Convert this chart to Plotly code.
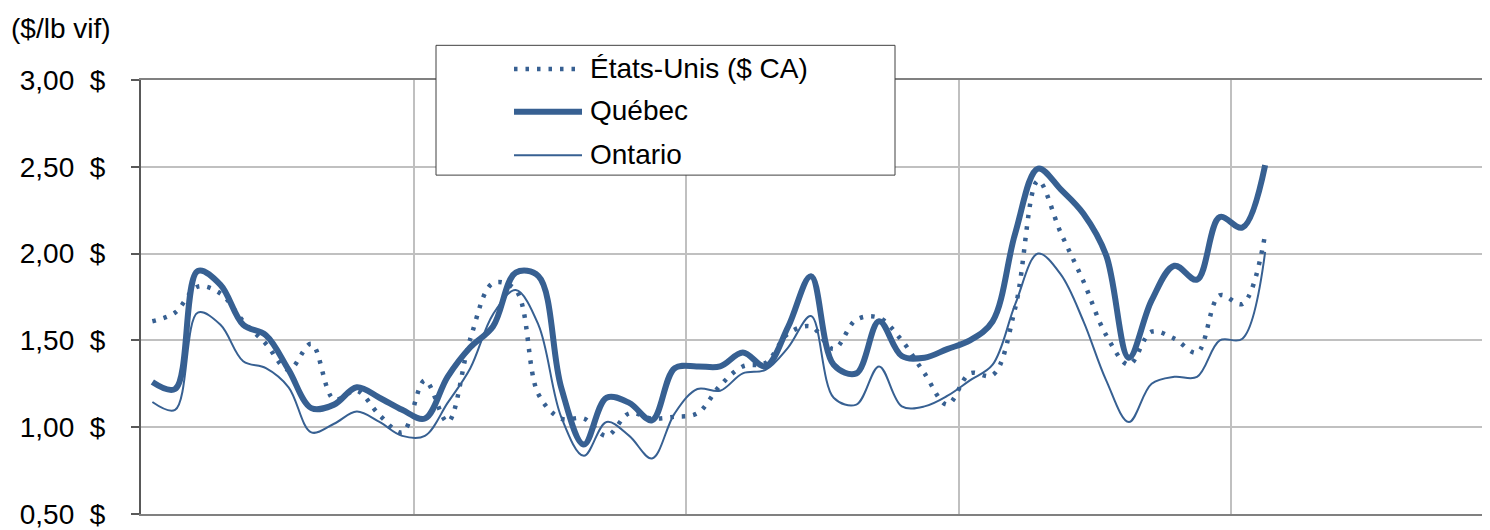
import plotly.graph_objects as go

# ---- data (monthly points) ----
months = list(range(50))
etats_unis = [1.61, 1.66, 1.81, 1.77, 1.61, 1.48, 1.33, 1.48, 1.16, 1.21, 1.07, 0.97,
              1.27, 1.03, 1.51, 1.83, 1.79, 1.19, 1.05, 1.05, 0.95, 1.08, 1.05, 1.06,
              1.08, 1.24, 1.35, 1.37, 1.54, 1.58, 1.45, 1.62, 1.63, 1.50, 1.31, 1.13,
              1.31, 1.30, 1.69, 2.42, 2.12, 1.84, 1.53, 1.36, 1.55, 1.51, 1.43, 1.76,
              1.71, 2.11]
quebec = [1.26, 1.22, 1.90, 1.82, 1.59, 1.53, 1.33, 1.11, 1.13, 1.23, 1.17, 1.10,
          1.05, 1.29, 1.46, 1.58, 1.89, 1.87, 1.23, 0.90, 1.17, 1.14, 1.04, 1.34,
          1.35, 1.35, 1.43, 1.35, 1.58, 1.87, 1.36, 1.31, 1.61, 1.41, 1.40, 1.45,
          1.50, 1.61, 2.12, 2.49, 2.37, 2.23, 1.99, 1.40, 1.73, 1.93, 1.85, 2.21,
          2.15, 2.51]
ontario = [1.145, 1.10, 1.66, 1.59, 1.38, 1.34, 1.23, 0.97, 1.02, 1.09, 1.03, 0.95,
           0.95, 1.14, 1.34, 1.65, 1.79, 1.59, 1.06, 0.835, 1.03, 0.95, 0.82, 1.08,
           1.22, 1.21, 1.31, 1.33, 1.46, 1.64, 1.17, 1.13, 1.35, 1.12, 1.12, 1.18,
           1.27, 1.36, 1.71, 2.00, 1.88, 1.61, 1.27, 1.03, 1.25, 1.29, 1.29, 1.50,
           1.51, 2.01]
series_names = ["États-Unis ($ CA)", "Québec", "Ontario"]
y_tickvals = [0.5, 1.0, 1.5, 2.0, 2.5, 3.0]
y_ticktext = ["0,50\u00a0\u00a0$", "1,00\u00a0\u00a0$", "1,50\u00a0\u00a0$",
              "2,00\u00a0\u00a0$", "2,50\u00a0\u00a0$", "3,00\u00a0\u00a0$"]
y_title = "($/lb vif)"
year_bounds = [11.5, 23.5, 35.5, 47.5]

# ---- layout geometry (page pixels; the page body adds an 8px offset) ----
OFF = 8
PAGE_W, PAGE_H = 1490, 530
W, H = PAGE_W - OFF, PAGE_H - OFF
ML, MR, MT, MB = 141 - OFF, 0, 80 - OFF, PAGE_H - 518
PW, PH = W - ML - MR, H - MT - MB
px_per_month = 22.71
x_range = [-0.5, -0.5 + PW / px_per_month]

def px(xp):
    return (xp - OFF - ML) / PW

def py(yp):
    return (H - MB - (yp - OFF)) / PH

COLOR = "#376092"
FONT = "Liberation Sans, Arial, sans-serif"
FS = 28

fig = go.Figure()
styles = [dict(width=4.5, dash="3.5px,8px"), dict(width=6), dict(width=2)]
for name, vals, st in zip(series_names, [etats_unis, quebec, ontario], styles):
    fig.add_trace(go.Scatter(
        x=months, y=vals, mode="lines", name=name, showlegend=False,
        line=dict(color=COLOR, shape="spline", smoothing=1, **st),
    ))

# manual legend (box, samples, labels)
shapes = [dict(type="rect", xref="paper", yref="paper",
               x0=px(436), x1=px(895), y0=py(176), y1=py(45),
               line=dict(color="#404040", width=1), fillcolor="white", layer="above")]
annotations = []
rows = [68, 111, 155]
for name, st, yr in zip(series_names, styles, rows):
    shapes.append(dict(type="line", xref="paper", yref="paper",
                       x0=px(514), x1=px(582), y0=py(yr + 1), y1=py(yr + 1),
                       line=dict(color=COLOR, width=st["width"], dash=st.get("dash", "solid")),
                       layer="above"))
    annotations.append(dict(xref="paper", yref="paper", x=px(588), y=py(yr),
                            xanchor="left", yanchor="middle", showarrow=False,
                            text=name, font=dict(size=FS, color="black", family=FONT)))

annotations.append(dict(xref="paper", yref="paper", x=px(9), y=py(28),
                        xanchor="left", yanchor="middle", showarrow=False,
                        text=y_title, font=dict(size=FS, color="black", family=FONT)))

fig.update_layout(
    width=W, height=H,
    margin=dict(l=ML, r=MR, t=MT, b=MB, pad=0),
    paper_bgcolor="white", plot_bgcolor="white",
    font=dict(family=FONT, color="black"),
    shapes=shapes, annotations=annotations,
    showlegend=False,
)
fig.update_xaxes(
    range=x_range, tickvals=year_bounds, showticklabels=False, ticks="",
    showgrid=True, gridcolor="#c0c0c0", gridwidth=2, zeroline=False,
    showline=True, linecolor="#808080", linewidth=2, mirror=True,
)
fig.update_yaxes(
    range=[0.5, 3.0], tickvals=y_tickvals, ticktext=y_ticktext,
    ticks="outside", ticklen=8, tickcolor="#595959", tickwidth=2,
    ticklabelstandoff=20, ticklabeloverflow="allow",
    tickfont=dict(size=FS, color="black", family=FONT),
    showgrid=True, gridcolor="#c0c0c0", gridwidth=2, zeroline=False,
    showline=True, linecolor="#595959", linewidth=2,
)

fig.write_html("out.html")
